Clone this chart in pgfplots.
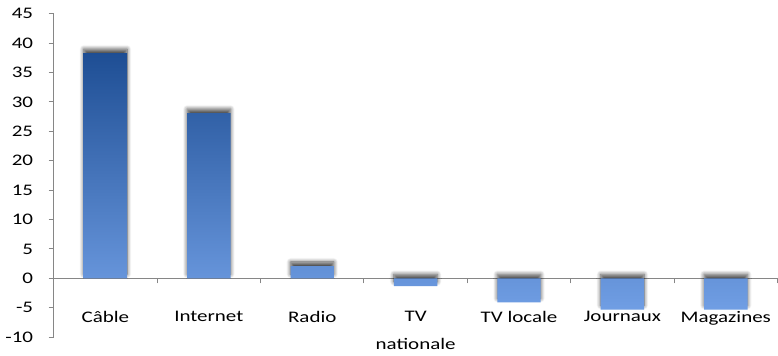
\documentclass[border={0bp 0bp 0bp 3bp}]{standalone}
\usepackage{fontspec}
\setmainfont{Carlito}[FakeStretch=1.3]
\usepackage{pgfplots}
\pgfplotsset{compat=1.18}
\usetikzlibrary{shadows.blur}
\definecolor{axgray}{RGB}{134,134,134}
\definecolor{bartop}{RGB}{30,78,148}
\definecolor{barbot}{RGB}{112,158,228}
\begin{document}
\fontsize{16bp}{27bp}\selectfont
\begin{tikzpicture}
\begin{axis}[
  scale only axis, width=718bp, height=321bp,
  xmin=-0.5, xmax=6.5, ymin=-10, ymax=45,
  axis x line*=middle, axis y line*=left,
  axis line style={axgray, line width=1bp},
  ytick={-10,-5,...,45},
  xtick={0,...,6},
  xticklabels={Câble,Internet,Radio,{TV\\nationale},TV locale,Journaux,Magazines},
  minor xtick={0.5,1.5,...,6.5},
  tick align=outside, major tick length=5bp, minor tick length=5bp,
  major x tick style={draw=none},
  every tick/.style={axgray, line width=1bp},
  /pgf/number format/assume math mode=true,
  tick label style={font=\fontsize{16bp}{28bp}\selectfont, text=black},
  xticklabel style={align=center, anchor=north, yshift=-22bp},
  yticklabel style={xshift=-10bp},
  clip=false,
]
\addplot[ybar, bar width=0.42, draw=none, top color=bartop, bottom color=barbot,
  blur shadow={shadow xshift=0bp, shadow yshift=4bp, shadow scale=1, shadow opacity=70, shadow blur steps=8, shadow blur radius=4bp}]
  coordinates {(0,38.3) (1,28.1) (2,2.1) (3,-1.3) (4,-4.1) (5,-5.3) (6,-5.3)};
\end{axis}
\end{tikzpicture}
\end{document}
